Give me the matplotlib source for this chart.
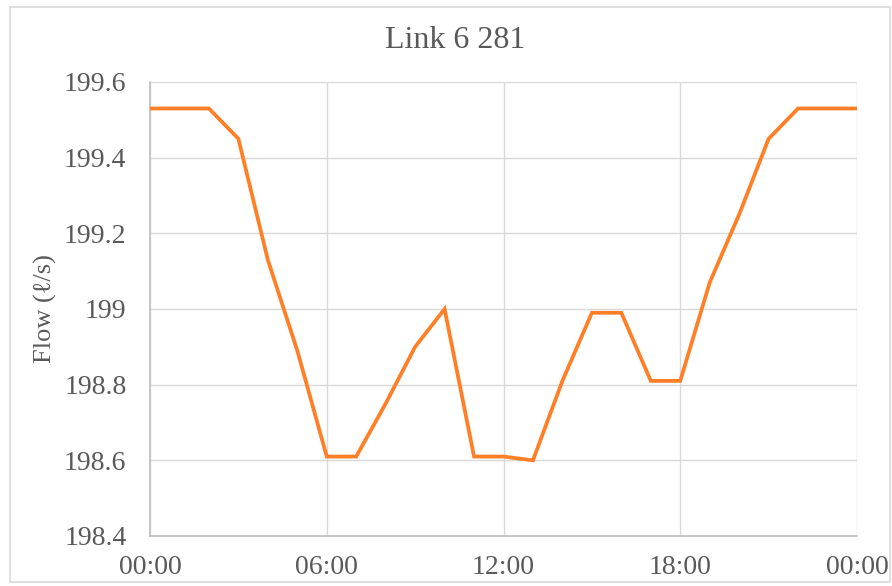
import matplotlib
matplotlib.use("Agg")
import matplotlib.pyplot as plt
from matplotlib.patches import Rectangle

hours = list(range(25))
flow = [199.53, 199.53, 199.53, 199.45, 199.13, 198.89, 198.61, 198.61, 198.75,
        198.90, 199.00, 198.61, 198.61, 198.60, 198.81, 198.99, 198.99, 198.81,
        198.81, 199.07, 199.25, 199.45, 199.53, 199.53, 199.53]
xtick_pos = [0, 6, 12, 18, 24]
xtick_labels = ["00:00", "06:00", "12:00", "18:00", "00:00"]
ytick_vals = [198.4, 198.6, 198.8, 199.0, 199.2, 199.4, 199.6]
ytick_labels = ["198.4", "198.6", "198.8", "199", "199.2", "199.4", "199.6"]
title = "Link 6 281"
ylabel = "Flow (ℓ/s)"

plt.rcParams['font.family'] = ['Liberation Serif', 'DejaVu Serif']
txt = '#595959'
gridc = '#d9d9d9'

fig = plt.figure(figsize=(8.92, 5.86), dpi=100)
fig.patches.append(Rectangle((10/892, 1-582/586), 880/892, 575/586, transform=fig.transFigure,
                             fill=False, edgecolor='#d9d9d9', linewidth=1.2))
ax = fig.add_axes([150/892, 1-536/586, 707/892, 454/586])
ax.plot(hours, flow, color='#ff7f27', linewidth=2.7, solid_joinstyle='miter', zorder=3)
ax.set_xlim(0, 24)
ax.set_ylim(198.4, 199.6)
ax.set_xticks(xtick_pos)
ax.set_xticklabels(xtick_labels)
ax.set_yticks(ytick_vals)
ax.set_yticklabels(ytick_labels)
ax.grid(True, color=gridc, linewidth=1.0)
for s in ['top', 'right']:
    ax.spines[s].set_visible(False)
for s in ['left', 'bottom']:
    ax.spines[s].set_color('#bfbfbf')
    ax.spines[s].set_linewidth(1.2)
ax.tick_params(length=0, labelsize=20, colors=txt)
ax.tick_params(axis='y', pad=17)
ax.tick_params(axis='x', pad=14)
ax.set_ylabel(ylabel, fontsize=19, color=txt, labelpad=5)
fig.text(455/892, 1-40/586, title, ha='center', va='center', fontsize=23, color=txt)
fig.savefig('out.png', dpi=100)
